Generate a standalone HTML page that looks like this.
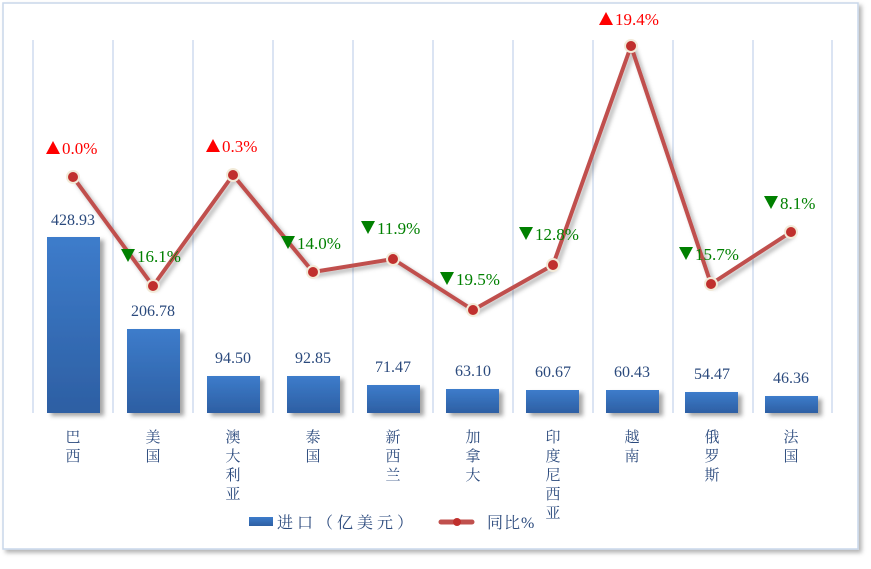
<!DOCTYPE html>
<html><head><meta charset="utf-8"><style>
body{margin:0;background:#fff;width:871px;height:564px;overflow:hidden}
svg text{font-family:"Liberation Serif","Noto Serif CJK SC",serif}
</style></head><body>
<svg width="871" height="564" viewBox="0 0 871 564">
<defs>
<linearGradient id="bg" x1="0" y1="0" x2="0" y2="1"><stop offset="0" stop-color="#3d7ccb"/><stop offset="1" stop-color="#2d5fa3"/></linearGradient>
<filter id="sh" x="-20%" y="-20%" width="150%" height="150%"><feDropShadow dx="4" dy="3" stdDeviation="2" flood-color="#000" flood-opacity="0.35"/></filter>
<filter id="sh2"><feDropShadow dx="3" dy="3" stdDeviation="2" flood-color="#000" flood-opacity="0.3"/></filter>
</defs>
<rect x="3" y="3" width="855" height="546" fill="#fff" stroke="#c9d7ea" stroke-width="1.5" filter="url(#sh2)"/>
<g stroke="#cfdcef" stroke-width="1.5">
<line x1="33" y1="40" x2="33" y2="413"/><line x1="113" y1="40" x2="113" y2="413"/><line x1="193" y1="40" x2="193" y2="413"/><line x1="273" y1="40" x2="273" y2="413"/><line x1="353" y1="40" x2="353" y2="413"/><line x1="433" y1="40" x2="433" y2="413"/><line x1="513" y1="40" x2="513" y2="413"/><line x1="593" y1="40" x2="593" y2="413"/><line x1="673" y1="40" x2="673" y2="413"/><line x1="753" y1="40" x2="753" y2="413"/><line x1="832" y1="40" x2="832" y2="413"/>
</g>
<line x1="33" y1="414" x2="832" y2="414" stroke="#cfdcef" stroke-width="2" filter="url(#sh2)"/>
<g fill="url(#bg)" filter="url(#sh)">
<rect x="47" y="237" width="53" height="176"/><rect x="127" y="329" width="53" height="84"/><rect x="207" y="376" width="53" height="37"/><rect x="287" y="376" width="53" height="37"/><rect x="367" y="385" width="53" height="28"/><rect x="446" y="389" width="53" height="24"/><rect x="526" y="390" width="53" height="23"/><rect x="606" y="390" width="53" height="23"/><rect x="685" y="392" width="53" height="21"/><rect x="765" y="396" width="53" height="17"/>
</g>
<g fill="#2b4a7d" font-size="16" text-anchor="middle">
<text x="73" y="225">428.93</text><text x="153" y="316">206.78</text><text x="233" y="363">94.50</text><text x="313" y="363">92.85</text><text x="393" y="372">71.47</text><text x="473" y="376">63.10</text><text x="553" y="377">60.67</text><text x="632" y="377">60.43</text><text x="712" y="379">54.47</text><text x="791" y="383">46.36</text>
</g>
<polyline points="73,177 153,286 233,175 313,272 393,259 473,310 553,265 631,46 711,284 791,232" fill="none" stroke="#c0504d" stroke-width="4" stroke-linejoin="round" filter="url(#sh2)"/>
<g fill="#c0302d" stroke="#f2ead8" stroke-width="2">
<circle cx="73" cy="177" r="6"/><circle cx="153" cy="286" r="6"/><circle cx="233" cy="175" r="6"/><circle cx="313" cy="272" r="6"/><circle cx="393" cy="259" r="6"/><circle cx="473" cy="310" r="6"/><circle cx="553" cy="265" r="6"/><circle cx="631" cy="46" r="6"/><circle cx="711" cy="284" r="6"/><circle cx="791" cy="232" r="6"/>
</g>
<g fill="#f00">
<path d="M46,154 L60,154 L53,141Z"/><path d="M206,152 L220,152 L213,139Z"/><path d="M599,25 L613,25 L606,12Z"/>
</g>
<g fill="#008000">
<path d="M121,249 L135,249 L128,262Z"/><path d="M281,236 L295,236 L288,249Z"/><path d="M361,221 L375,221 L368,234Z"/><path d="M440,272 L454,272 L447,285Z"/><path d="M519,227 L533,227 L526,240Z"/><path d="M679,247 L693,247 L686,260Z"/><path d="M764,196 L778,196 L771,209Z"/>
</g>
<g font-size="17">
<text x="62" y="154" fill="#f00">0.0%</text>
<text x="222" y="152" fill="#f00">0.3%</text>
<text x="615" y="25" fill="#f00">19.4%</text>
<text x="137" y="262" fill="#008000">16.1%</text>
<text x="297" y="249" fill="#008000">14.0%</text>
<text x="377" y="234" fill="#008000">11.9%</text>
<text x="456" y="285" fill="#008000">19.5%</text>
<text x="535" y="240" fill="#008000">12.8%</text>
<text x="695" y="260" fill="#008000">15.7%</text>
<text x="780" y="209" fill="#008000">8.1%</text>
</g>
<g fill="#2b4a7d" font-size="15" text-anchor="middle">
<text x="73" y="442">巴</text><text x="73" y="461">西</text>
<text x="153" y="442">美</text><text x="153" y="461">国</text>
<text x="233" y="442">澳</text><text x="233" y="461">大</text><text x="233" y="480">利</text><text x="233" y="499">亚</text>
<text x="313" y="442">泰</text><text x="313" y="461">国</text>
<text x="393" y="442">新</text><text x="393" y="461">西</text><text x="393" y="480">兰</text>
<text x="473" y="442">加</text><text x="473" y="461">拿</text><text x="473" y="480">大</text>
<text x="553" y="442">印</text><text x="553" y="461">度</text><text x="553" y="480">尼</text><text x="553" y="499">西</text><text x="553" y="518">亚</text>
<text x="632" y="442">越</text><text x="632" y="461">南</text>
<text x="712" y="442">俄</text><text x="712" y="461">罗</text><text x="712" y="480">斯</text>
<text x="791" y="442">法</text><text x="791" y="461">国</text>
</g>
<rect x="249" y="517" width="24" height="9" fill="url(#bg)"/>
<text x="277" y="528" fill="#2b4a7d" font-size="16" letter-spacing="4">进口（亿美元）</text>
<line x1="441" y1="522" x2="472" y2="522" stroke="#c0504d" stroke-width="5" stroke-linecap="round"/>
<circle cx="457" cy="522" r="4" fill="#c0302d"/>
<text x="487" y="528" fill="#2b4a7d" font-size="16" letter-spacing="1">同比%</text>
</svg>
</body></html>
